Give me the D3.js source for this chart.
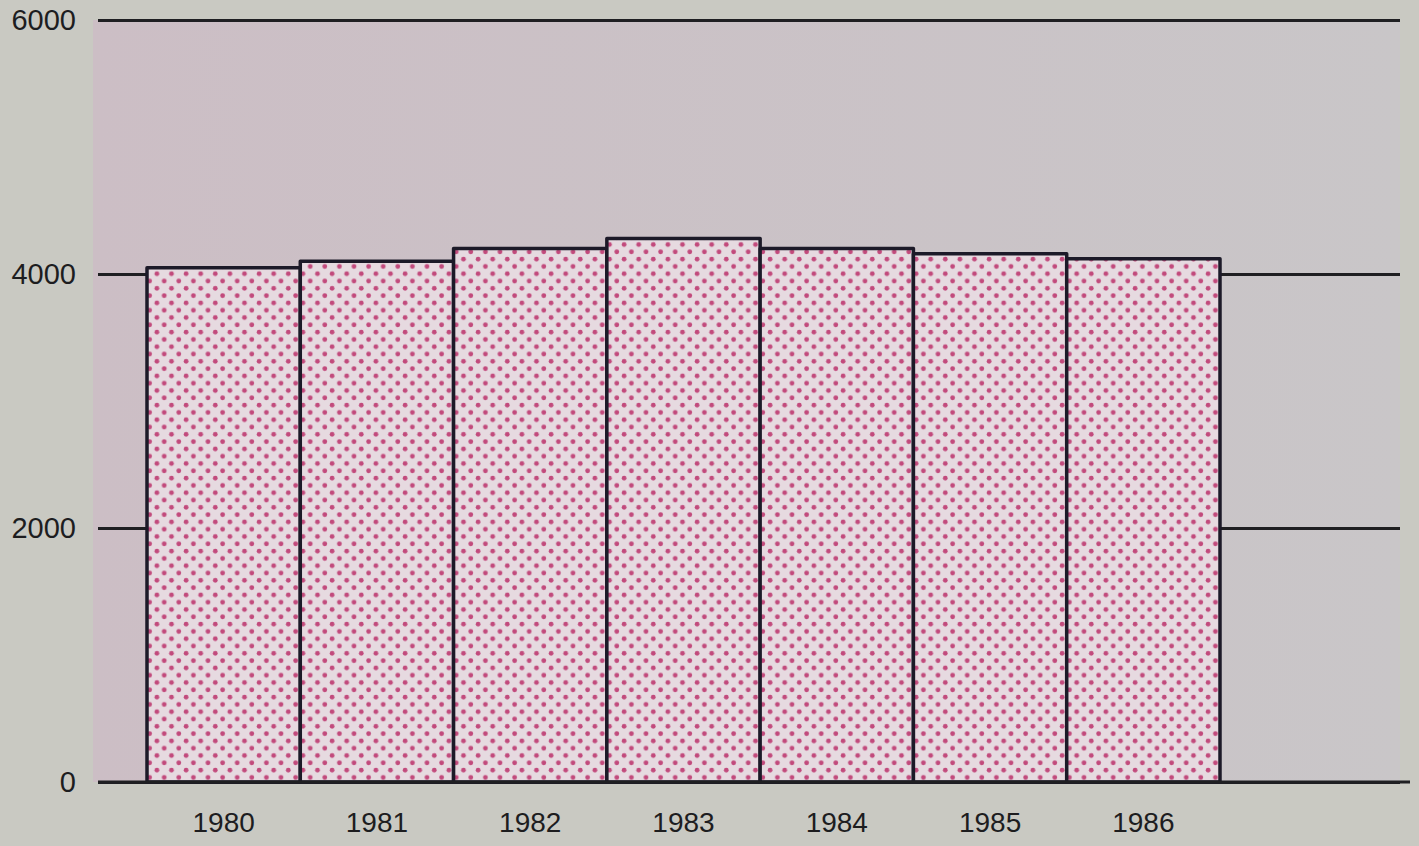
<!DOCTYPE html>
<html>
<head>
<meta charset="utf-8">
<script src="https://cdn.jsdelivr.net/npm/d3@7"></script>
<style>
    html, body { margin: 0; padding: 0; background: #c9c9c2; }
    #chart { width: 1419px; height: 846px; }
    text { font-family: "Liberation Sans", Arial, sans-serif; fill: #1d1d1f; }
</style>
</head>
<body>
<div id="chart"></div>
<script>

// data
let years = ["1980", "1981", "1982", "1983", "1984", "1985", "1986"];
let values = [4050, 4100, 4200, 4280, 4200, 4160, 4120];
let yTicks = [0, 2000, 4000, 6000];


class BarVis {

    constructor(parentElement) {
        this.parentElement = parentElement;
        this.initVis();
    }

    initVis() {
        let vis = this;

        vis.width = 1419;
        vis.height = 846;

        vis.svg = d3.select("#" + vis.parentElement).append("svg")
            .attr("width", vis.width)
            .attr("height", vis.height);

        // scales
        vis.x = d3.scaleBand()
            .domain(years)
            .range([147, 1220])
            .padding(0);

        vis.y = d3.scaleLinear()
            .domain([0, 6000])
            .range([782, 20]);

        // dotted halftone fill
        let defs = vis.svg.append("defs");
        let pattern = defs.append("pattern")
            .attr("id", "dots")
            .attr("patternUnits", "userSpaceOnUse")
            .attr("width", 14.6)
            .attr("height", 14.6);
        pattern.append("rect")
            .attr("width", 14.6)
            .attr("height", 14.6)
            .attr("fill", "#e6dae0");
        pattern.selectAll("circle")
            .data([[3.6, 3.6], [10.9, 10.9]])
            .enter().append("circle")
            .attr("cx", d => d[0])
            .attr("cy", d => d[1])
            .attr("r", 2.4)
            .attr("fill", "#c24a7c");

        // plot background (slightly pink paper)
        let bg = defs.append("linearGradient")
            .attr("id", "bgGrad")
            .attr("x1", "0%").attr("x2", "100%")
            .attr("y1", "0%").attr("y2", "0%");
        bg.append("stop").attr("offset", "0%").attr("stop-color", "#ccbec5");
        bg.append("stop").attr("offset", "100%").attr("stop-color", "#c9c6c8");

        vis.svg.append("rect")
            .attr("x", 93)
            .attr("y", vis.y(6000))
            .attr("width", 1307)
            .attr("height", vis.y(0) - vis.y(6000))
            .attr("fill", "url(#bgGrad)");

        // y axis with grid lines
        vis.yAxis = d3.axisLeft(vis.y)
            .tickValues(yTicks)
            .tickFormat(d3.format("d"))
            .tickSize(-(1400 - 98))
            .tickPadding(22);

        vis.yAxisGroup = vis.svg.append("g")
            .attr("class", "y-axis")
            .attr("transform", "translate(98,0)")
            .call(vis.yAxis);

        vis.yAxisGroup.select(".domain").remove();
        vis.yAxisGroup.selectAll("line")
            .attr("stroke", "#1f1f22")
            .attr("stroke-width", 2.8);
        vis.yAxisGroup.selectAll("text")
            .style("font-size", "29px")
            .attr("fill", "#1d1d1f");

        // bars
        vis.svg.append("g")
            .attr("class", "bars")
            .selectAll("rect")
            .data(values)
            .enter().append("rect")
            .attr("x", (d, i) => vis.x(years[i]))
            .attr("y", d => vis.y(d))
            .attr("width", vis.x.bandwidth())
            .attr("height", d => vis.y(0) - vis.y(d))
            .attr("fill", "url(#dots)")
            .attr("stroke", "#1c1a28")
            .attr("stroke-width", 3.5)
            .attr("stroke-linejoin", "round");

        // baseline on top of the bars
        vis.svg.append("line")
            .attr("x1", 98)
            .attr("x2", 1410)
            .attr("y1", vis.y(0))
            .attr("y2", vis.y(0))
            .attr("stroke", "#1f1f22")
            .attr("stroke-width", 3.2);

        // x axis labels
        vis.xAxis = d3.axisBottom(vis.x)
            .tickSize(0)
            .tickPadding(30);

        vis.xAxisGroup = vis.svg.append("g")
            .attr("class", "x-axis")
            .attr("transform", `translate(0,${vis.y(0)})`)
            .call(vis.xAxis);

        vis.xAxisGroup.select(".domain").remove();
        vis.xAxisGroup.selectAll("text")
            .style("font-size", "28px")
            .attr("fill", "#1d1d1f");
    }
}

new BarVis("chart");

</script>
</body>
</html>
